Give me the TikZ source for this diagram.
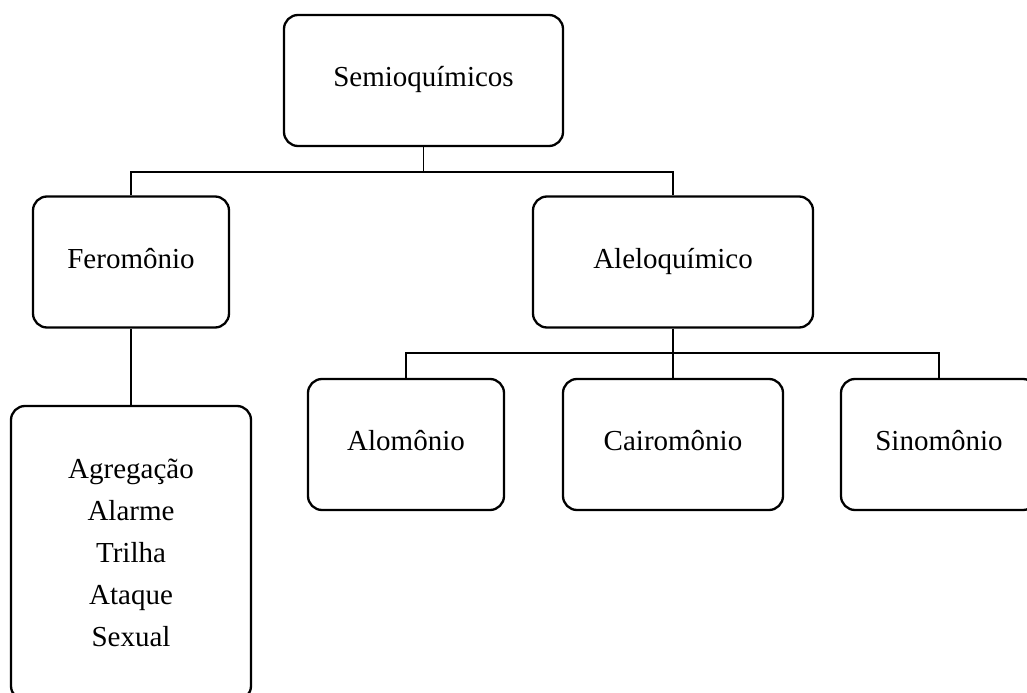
\documentclass[tikz,border=0pt]{standalone}
\usepackage{fontspec}
\setmainfont{Liberation Serif}
\begin{document}
\begin{tikzpicture}[x=1bp,y=-1bp,
  box/.style={draw, line width=2.3bp, rounded corners=14bp, inner sep=0pt,
    minimum height=131bp, align=center,
    font=\fontsize{29bp}{42bp}\selectfont},
  one/.style={box, text height=19bp, text depth=7bp},
  conn/.style={draw, line width=1.1bp}]
\useasboundingbox (0,0) rectangle (1027,693);
\clip (0,0) rectangle (1027,693);
\node[one, minimum width=279bp] (sem) at (423.5,80.5) {Semioquímicos};
\node[one, minimum width=196bp] (fer) at (131,262) {Feromônio};
\node[one, minimum width=280bp] (ale) at (673,262) {Aleloquímico};
\node[one, minimum width=196bp] (alo) at (406,444.5) {Alomônio};
\node[one, minimum width=220bp] (cai) at (673,444.5) {Cairomônio};
\node[one, minimum width=196bp] (sin) at (939,444.5) {Sinomônio};
\node[box, minimum width=240bp, minimum height=294bp] (agr) at (131,553)
  {Agregação\\Alarme\\Trilha\\Ataque\\Sexual};
\coordinate (j1) at (423.5,172);
\coordinate (j2) at (673,353);
\draw[conn] (sem.south) -- (j1);
\draw[conn] (fer.north) |- (j1) -| (ale.north);
\draw[conn] (fer.south) -- (agr.north);
\draw[conn] (ale.south) -- (cai.north);
\draw[conn] (alo.north) |- (j2) -| (sin.north);
\end{tikzpicture}
\end{document}
